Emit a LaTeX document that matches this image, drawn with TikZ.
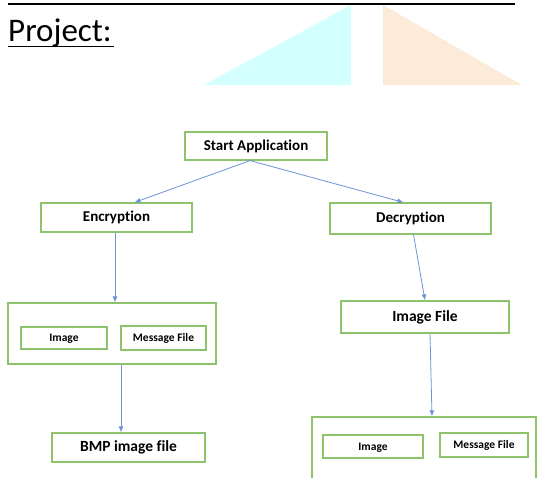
\documentclass[tikz,border=0pt]{standalone}
\usepackage{fontspec}
\setmainfont{Carlito}[Ligatures=NoCommon]
\usetikzlibrary{arrows.meta}
\definecolor{boxgreen}{HTML}{8CC36B}
\definecolor{arrblue}{HTML}{6E93D6}
\definecolor{tricyan}{HTML}{D4FFFF}
\definecolor{triorange}{HTML}{FDEBD9}

\begin{document}
\begin{tikzpicture}[x=1pt, y=-1pt,
    box/.style={draw=boxgreen, line width=1.2pt, inner sep=0pt, font=\bfseries},
    arr/.style={draw=arrblue, line width=0.8pt, -{Latex[length=6pt,width=5pt]}}]
    \useasboundingbox (0,0) rectangle (537,477);
    \clip (0,0) rectangle (537,477);

    % header of the page
    \draw[line width=2pt] (8,4) -- (515,4);
    \node[anchor=base west, inner sep=0pt, font=\fontsize{33}{38}\selectfont] (P) at (8,41) {Project:};
    \draw[line width=1.6pt] (8,46.5) -- (114,46.5);
    \fill[tricyan] (204,85) -- (351,85) -- (351,5) -- cycle;
    \fill[triorange] (383,5) -- (383,85) -- (522,85) -- cycle;

    \node[box, minimum width=142, minimum height=28, font=\bfseries\fontsize{15}{17}\selectfont] (S) at (256,146) {Start Application};
    \node[box, minimum width=151, minimum height=29, font=\bfseries\fontsize{15}{17}\selectfont] (E) at (116.5,217.5) {Encryption};
    \node[box, minimum width=161, minimum height=31, font=\bfseries\fontsize{15}{17}\selectfont] (D) at (410.5,218.5) {Decryption};

    % encryption side
    \node[box, minimum width=208, minimum height=61] (EB) at (112,333.5) {};
    \node[box, minimum width=86, minimum height=22, text depth=-1pt, font=\bfseries\fontsize{11.5}{13}\selectfont] (EI) at (64,338) {Image};
    \node[box, minimum width=85, minimum height=24, font=\bfseries\fontsize{11.5}{13}\selectfont] (EM) at (163.5,338) {Message File};
    \node[box, minimum width=153, minimum height=29, font=\bfseries\fontsize{15.5}{18}\selectfont] (B) at (128.5,447.5) {BMP image file};

    % decryption side
    \node[box, minimum width=168, minimum height=32, font=\bfseries\fontsize{15.5}{18}\selectfont] (F) at (425,317) {Image File};
    \node[box, minimum width=224, minimum height=80] (DB) at (424,457) {};
    \node[box, minimum width=100, minimum height=23, text depth=-1pt, font=\bfseries\fontsize{11.5}{13}\selectfont] (DI) at (373,446.5) {Image};
    \node[box, minimum width=88, minimum height=24, font=\bfseries\fontsize{11.5}{13}\selectfont] (DM) at (484,445) {Message File};

    \draw[arr] ([xshift=-6pt]S.south) -- ([xshift=18pt]E.north);
    \draw[arr] ([xshift=-6pt]S.south) -- ([xshift=-7pt]D.north);
    \draw[arr] ([xshift=-1.5pt]E.south) -- ([xshift=-1.5pt]E.south |- EB.north);
    \draw[arr] ([xshift=9pt]EB.south) -- ([xshift=-7.5pt]B.north);
    \draw[arr] ([xshift=3pt]D.south) -- (F.north);
    \draw[arr] ([xshift=5pt]F.south) -- ([xshift=8pt]DB.north);
\end{tikzpicture}
\end{document}
